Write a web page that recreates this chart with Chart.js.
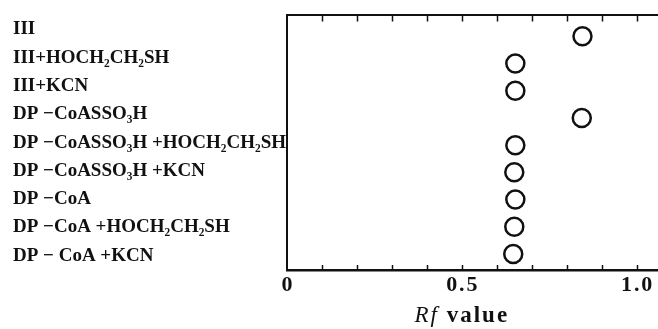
<!DOCTYPE html>
<html>
<head>
<meta charset="utf-8">
<script src="https://cdn.jsdelivr.net/npm/chart.js@4/dist/chart.umd.min.js"></script>
<style>
  html, body { margin: 0; padding: 0; background: #fff; }
  #wrap { width: 658px; height: 329px; position: relative; }
</style>
</head>
<body>
<div id="wrap"><canvas id="rfChart"></canvas></div>
<script>
// samples, top to bottom
const samples = [
    'III',
    'III+HOCH₂CH₂SH',
    'III+KCN',
    'DP −CoASSO₃H',
    'DP −CoASSO₃H +HOCH₂CH₂SH',
    'DP −CoASSO₃H +KCN',
    'DP −CoA',
    'DP −CoA +HOCH₂CH₂SH',
    'DP − CoA +KCN'
];
const rowIndex = [1, 2, 3, 4, 5, 6, 7, 8, 9];
const rfValues = [0.845, 0.653, 0.653, 0.843, 0.653, 0.65, 0.653, 0.65, 0.647];

const xTickValues = [0, 0.5, 1.0];
const xTickLabels = ['0', '0.5', '1.0'];
const xMinorTicks = [0.1, 0.2, 0.3, 0.4, 0.5, 0.6, 0.7, 0.8, 0.9, 1.0];
const axisTitleItalic = 'Rf';
const axisTitleRest = ' value';

const serif = '"Liberation Serif", "DejaVu Serif", serif';

// inward tick marks on top and bottom frame + mixed-style axis title
const frameTicks = {
    id: 'frameTicks',
    afterDraw(chart) {
        const ctx = chart.ctx;
        const area = chart.chartArea;
        const x = chart.scales.x;
        ctx.save();
        ctx.strokeStyle = '#111';
        ctx.lineWidth = 1.5;
        xMinorTicks.forEach(v => {
            const px = Math.round(x.getPixelForValue(v)) + 0.5;
            ctx.beginPath();
            ctx.moveTo(px, area.bottom);
            ctx.lineTo(px, area.bottom - 5);
            ctx.moveTo(px, area.top);
            ctx.lineTo(px, area.top + 6);
            ctx.stroke();
        });

        // axis title: "Rf" italic, "value" bold
        ctx.fillStyle = '#111';
        ctx.textBaseline = 'alphabetic';
        ctx.letterSpacing = '2px';
        const f1 = 'italic 23px ' + serif;
        const f2 = 'bold 23px ' + serif;
        ctx.font = f1;
        const w1 = ctx.measureText(axisTitleItalic).width;
        ctx.font = f2;
        const w2 = ctx.measureText(axisTitleRest).width;
        const cx = x.getPixelForValue(0.5);
        let left = cx - (w1 + w2) / 2;
        ctx.font = f1;
        ctx.textAlign = 'left';
        ctx.fillText(axisTitleItalic, left, 322);
        ctx.font = f2;
        ctx.fillText(axisTitleRest, left + w1, 322);
        ctx.restore();
    }
};

const ctx = document.getElementById('rfChart');
new Chart(ctx, {
    type: 'scatter',
    data: {
        datasets: [{
            data: rfValues.map((v, i) => ({ x: v, y: rowIndex[i] })),
            yAxisID: 'yp',
            pointStyle: 'circle',
            pointRadius: 9,
            pointHoverRadius: 9,
            borderWidth: 2.5,
            borderColor: '#111',
            backgroundColor: 'rgba(255,255,255,0)',
            showLine: false
        }]
    },
    options: {
        responsive: true,
        maintainAspectRatio: false,
        animation: false,
        layout: { autoPadding: false, padding: { left: 13, top: 14, right: 0, bottom: 0 } },
        plugins: {
            legend: { display: false },
            tooltip: { enabled: false }
        },
        scales: {
            x: {
                type: 'linear',
                position: 'bottom',
                min: 0,
                max: 1.061,
                afterBuildTicks: s => { s.ticks = xTickValues.map(v => ({ value: v })); },
                afterFit: s => { s.height = 59; s.paddingRight = 0; s.paddingLeft = 0; },
                grid: { display: false, drawTicks: false },
                border: { display: true, color: '#111', width: 2.5 },
                ticks: {
                    padding: 2,
                    color: '#111',
                    maxRotation: 0,
                    font: { family: serif, size: 22, weight: 'bold' },
                    callback: function(value) {
                        const i = xTickValues.indexOf(value);
                        return i >= 0 ? xTickLabels[i].split('').join('\u200A') : '';
                    }
                }
            },
            x2: {
                type: 'linear',
                position: 'top',
                min: 0,
                max: 1.061,
                afterFit: s => { s.paddingRight = 0; s.paddingLeft = 0; },
                grid: { display: false, drawTicks: false },
                border: { display: true, color: '#111', width: 2 },
                ticks: { display: false }
            },
            y: {
                type: 'category',
                position: 'left',
                labels: samples,
                offset: true,
                afterFit: s => { s.width = 274; },
                grid: { display: false, drawTicks: false },
                border: { display: true, color: '#111', width: 2 },
                ticks: {
                    crossAlign: 'far',
                    padding: 4,
                    color: '#111',
                    font: { family: serif, size: 19, weight: 'bold' },
                    autoSkip: false
                }
            },
            yp: {
                type: 'linear',
                display: false,
                reverse: true,
                min: 0.23,
                max: 9.59
            }
        }
    },
    plugins: [frameTicks]
});
</script>
</body>
</html>
